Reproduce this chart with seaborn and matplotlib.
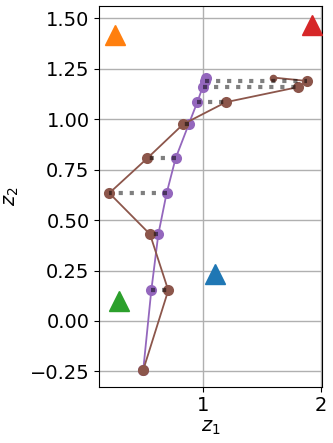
import matplotlib
matplotlib.use("Agg")
import matplotlib.pyplot as plt
import seaborn as sns
import pandas as pd
import numpy as np

# path of the first model (purple) and second model (brown); index 0 is the start
purple_x = [1.021, 1.010, 0.993, 0.947, 0.874, 0.762, 0.685, 0.614, 0.554, 0.485]
purple_y = [1.207, 1.190, 1.160, 1.085, 0.976, 0.807, 0.634, 0.430, 0.152, -0.243]
brown_x = [1.597, 1.887, 1.810, 1.192, 0.827, 0.520, 0.195, 0.543, 0.699, 0.485]
brown_y = [1.207, 1.190, 1.160, 1.085, 0.976, 0.807, 0.634, 0.430, 0.152, -0.243]

# target triangles
tri_x = [1.10, 0.24, 0.28, 1.93]
tri_y = [0.232, 1.42, 0.10, 1.47]
tri_colors = ["tab:blue", "tab:orange", "tab:green", "tab:red"]

sns.set_style("ticks", {"axes.edgecolor": "black", "text.color": "black",
                        "xtick.color": "black", "ytick.color": "black",
                        "axes.labelcolor": "black"})
plt.rcParams["font.family"] = ["DejaVu Sans"]

fig = plt.figure(figsize=(3.33, 4.43), dpi=100)
ax = fig.add_axes([0.298, 0.127, 0.668, 0.86])

# purple path
sns.lineplot(x=purple_x, y=purple_y, sort=False, color="tab:purple", lw=1.3,
             marker="o", markersize=8, markeredgewidth=0, ax=ax, zorder=3)
# brown path
sns.lineplot(x=brown_x, y=brown_y, sort=False, color="tab:brown", lw=1.3,
             marker="o", markersize=8, markeredgewidth=0, ax=ax, zorder=4)
# small start marker for brown path drawn over its first point
ax.lines[-1].set_markevery(list(range(1, len(brown_x))))
sns.scatterplot(x=brown_x[:1], y=brown_y[:1], color="tab:brown", s=30,
                linewidth=0, ax=ax, zorder=4)

# dotted connectors between matching points
pairs = pd.DataFrame({
    "x": purple_x[1:] + brown_x[1:],
    "y": purple_y[1:] + brown_y[1:],
    "pair": list(range(1, len(purple_x))) * 2,
})
sns.lineplot(data=pairs, x="x", y="y", units="pair", estimator=None, sort=False,
             color="k", alpha=0.5, lw=3, linestyle=":", ax=ax, zorder=5)

for x, y, c in zip(tri_x, tri_y, tri_colors):
    ax.plot(x, y, marker="^", markersize=14, color=c, linestyle="none", zorder=6)

ax.set_xlim(0.109, 2.01)
ax.set_ylim(-0.326, 1.563)
ax.set_xticks([1, 2])
ax.set_yticks([-0.25, 0.0, 0.25, 0.5, 0.75, 1.0, 1.25, 1.5])
ax.grid(True, color="#b0b0b0", lw=1)
ax.tick_params(labelsize=14, length=3.5, width=0.8)
ax.set_xlabel("$z_1$", fontsize=14, labelpad=2)
ax.set_ylabel("$z_2$", fontsize=14, labelpad=6)

fig.savefig("out.png", dpi=100)
